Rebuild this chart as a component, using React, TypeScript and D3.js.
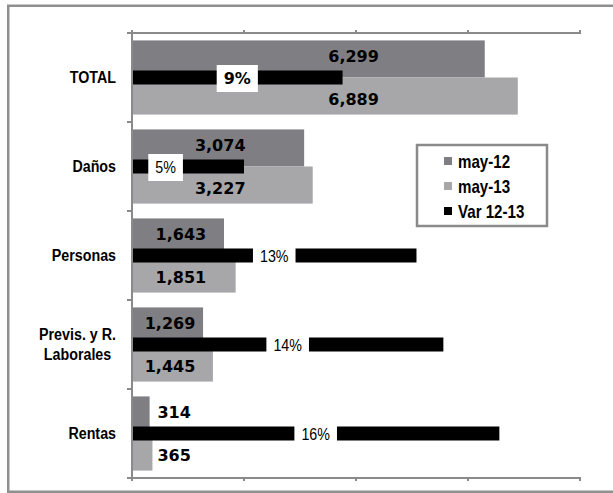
import React, { useEffect, useRef } from "react";
import * as d3 from "d3";

// ---------- data ----------
const categories = ["TOTAL", "Daños", "Personas", "Previs. y R.\nLaborales", "Rentas"];
const may12 = [6299, 3074, 1643, 1269, 314];
const may13 = [6889, 3227, 1851, 1445, 365];
const var1213 = [0.094, 0.05, 0.127, 0.139, 0.164];
const seriesNames = ["may-12", "may-13", "Var 12-13"];
const valueTicks = [0, 2000, 4000, 6000, 8000];
const pctDomain = [0, 0.2];

// ---------- style ----------
const COLORS = ["#7f7f83", "#a7a7aa", "#000000"];
const pctBold = [true, false, false, false, false];
const pctLabelFrac = [0.5, 0.3, 0.5, 0.5, 0.5];
const valueLabelFrac = [0.6, 0.5, 0.5, 0.5, 0.5];
const ARIAL = "'Liberation Sans', Arial, sans-serif";
const NARROW_SCALE = 0.84;
const WIDE_BOLD = "'DejaVu Sans', Verdana, sans-serif";
const AXIS = "#8a8a8a";

const W = 613;
const H = 493;

export default function App() {
  const ref = useRef<SVGSVGElement | null>(null);

  useEffect(() => {
    const svg = d3.select(ref.current);
    svg.selectAll("*").remove();

    // narrow text helper (emulates Arial Narrow)
    const narrowText = (
      parent: d3.Selection<any, any, any, any>,
      tx: number,
      ty: number,
      str: string,
      size: number,
      bold: boolean,
      anchor: string
    ) =>
      parent
        .append("text")
        .attr("transform", `translate(${tx},${ty}) scale(${NARROW_SCALE},1)`)
        .attr("text-anchor", anchor)
        .attr("dominant-baseline", "central")
        .attr("font-family", ARIAL)
        .attr("font-weight", bold ? "bold" : "normal")
        .attr("font-size", size)
        .attr("fill", "#000")
        .text(str);

    const x0 = 132, x1 = 580, yTop = 33, yBot = 478;
    const x = d3.scaleLinear().domain([0, 8000]).range([x0, x1]);
    const xp = d3.scaleLinear().domain(pctDomain).range([x0, x1]);
    const y = d3.scaleBand<number>().domain(d3.range(categories.length)).range([yTop, yBot]).padding(0);
    const step = y.bandwidth();
    const sub = d3.scaleBand<string>().domain(["a", "b"]).range([0, step]).paddingInner(0).paddingOuter(0.2);
    const bh = sub.bandwidth();
    const blackH = 14;

    // outer border
    svg.append("rect").attr("x", 8.25).attr("y", 5.75).attr("width", 640).attr("height", 486)
      .attr("fill", "#fff").attr("stroke", "#8f8f8f").attr("stroke-width", 2.5);

    const idx = d3.range(categories.length);

    // gray bars
    svg.append("g").selectAll("rect").data(idx).join("rect")
      .attr("x", x(0)).attr("y", (i) => y(i)! + sub("a")!)
      .attr("width", (i) => x(may12[i]) - x(0)).attr("height", bh)
      .attr("fill", COLORS[0]);
    svg.append("g").selectAll("rect").data(idx).join("rect")
      .attr("x", x(0)).attr("y", (i) => y(i)! + sub("b")!)
      .attr("width", (i) => x(may13[i]) - x(0)).attr("height", bh)
      .attr("fill", COLORS[1]);
    // black var bars
    svg.append("g").selectAll("rect").data(idx).join("rect")
      .attr("x", xp(0)).attr("y", (i) => y(i)! + step / 2 - blackH / 2)
      .attr("width", (i) => xp(var1213[i]) - xp(0)).attr("height", blackH)
      .attr("fill", COLORS[2]);

    // percent labels
    const fmtPct = d3.format(".0%");
    idx.forEach((i) => {
      const cx = xp(var1213[i] * pctLabelFrac[i]);
      const cy = y(i)! + step / 2 + 1;
      const g = svg.append("g");
      const rect = g.append("rect").attr("fill", "#fff");
      let w: number;
      if (pctBold[i]) {
        const t = g.append("text")
          .attr("x", cx).attr("y", cy)
          .attr("text-anchor", "middle").attr("dominant-baseline", "central")
          .attr("font-family", WIDE_BOLD).attr("font-weight", "bold").attr("font-size", 16)
          .attr("fill", "#000").text(fmtPct(var1213[i]));
        w = (t.node() as SVGTextElement).getComputedTextLength();
      } else {
        const t = narrowText(g, cx, cy, fmtPct(var1213[i]), 17, false, "middle");
        w = (t.node() as SVGTextElement).getComputedTextLength() * NARROW_SCALE;
      }
      rect.attr("x", cx - w / 2 - 7).attr("width", w + 14)
        .attr("y", cy - 13.5).attr("height", 27);
    });

    // value labels
    const fmt = d3.format(",");
    idx.forEach((i) => {
      const a = may12[i], b = may13[i];
      const c = y(i)! + step / 2;
      const outside = x(Math.max(a, b)) - x(0) < 40;
      const lx = outside ? x(Math.max(a, b)) + 5 : x(((a + b) / 2) * valueLabelFrac[i]);
      const anchor = outside ? "start" : "middle";
      [[a, c - 21], [b, c + 22]].forEach(([v, ly]) => {
        svg.append("text")
          .attr("x", lx).attr("y", ly)
          .attr("text-anchor", anchor).attr("dominant-baseline", "central")
          .attr("font-family", WIDE_BOLD).attr("font-weight", "bold").attr("font-size", 16)
          .attr("fill", "#000").text(fmt(v));
      });
    });

    // axes
    const axes = svg.append("g").attr("stroke", AXIS).attr("stroke-width", 2).attr("fill", "none");
    axes.append("line").attr("x1", x0).attr("x2", x0).attr("y1", yTop - 1).attr("y2", yBot + 1);
    axes.append("line").attr("x1", x0).attr("x2", x(8000) + 1).attr("y1", yTop).attr("y2", yTop);
    axes.append("line").attr("x1", x0).attr("x2", x(8000) + 1).attr("y1", yBot).attr("y2", yBot);
    valueTicks.forEach((v) => {
      axes.append("line").attr("x1", x(v)).attr("x2", x(v)).attr("y1", yTop - 3).attr("y2", yTop + 1);
      axes.append("line").attr("x1", x(v)).attr("x2", x(v)).attr("y1", yBot - 1).attr("y2", yBot + 3);
    });
    const bounds = [...idx.map((i) => y(i)!), yBot];
    bounds.forEach((b) => {
      axes.append("line").attr("x1", x0 - 5).attr("x2", x0).attr("y1", b).attr("y2", b);
    });

    // category labels
    idx.forEach((i) => {
      const lines = categories[i].split("\n");
      const c = y(i)! + step / 2;
      const lh = 20;
      const g = svg.append("g");
      const texts = lines.map((ln, k) =>
        narrowText(g, 0, c + (k - (lines.length - 1) / 2) * lh, ln, 17, true, "middle")
      );
      const maxW = (d3.max(texts, (t) => (t.node() as SVGTextElement).getComputedTextLength()) || 0) * NARROW_SCALE;
      const right = 116;
      texts.forEach((t, k) =>
        t.attr("transform", `translate(${right - maxW / 2},${c + (k - (lines.length - 1) / 2) * lh}) scale(${NARROW_SCALE},1)`)
      );
    });

    // legend
    const lg = svg.append("g");
    lg.append("rect").attr("x", 417).attr("y", 145).attr("width", 130).attr("height", 81)
      .attr("fill", "#fff").attr("stroke", AXIS).attr("stroke-width", 2.5);
    [0, 1, 2].forEach((s, k) => {
      const cy = 161 + k * 25;
      lg.append("rect").attr("x", 444).attr("y", cy - 4).attr("width", 8).attr("height", 8).attr("fill", COLORS[s]);
      narrowText(lg, 458, cy + 1, seriesNames[s], 18, true, "start");
    });
  }, []);

  return (
    <svg
      ref={ref}
      width={W}
      height={H}
      style={{ position: "absolute", left: 0, top: 0, display: "block", background: "#fff" }}
    />
  );
}
